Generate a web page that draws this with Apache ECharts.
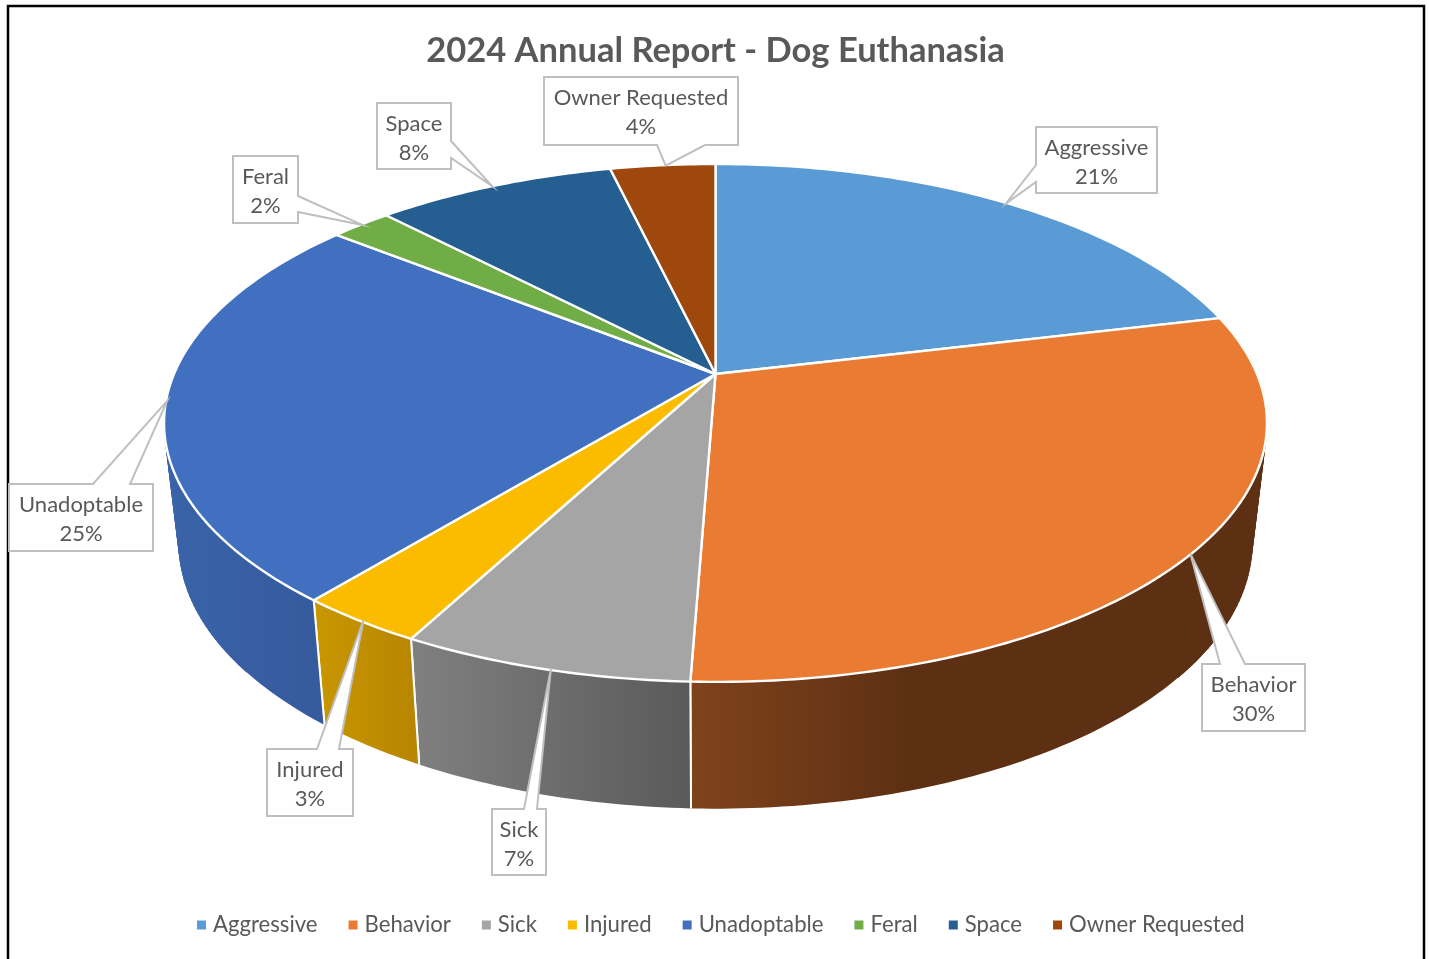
<!DOCTYPE html>
<html><head><meta charset="utf-8">
<script src="https://cdn.jsdelivr.net/npm/echarts@6/dist/echarts.min.js"></script>
<style>html,body{margin:0;padding:0;background:#fff}#c{width:1429px;height:959px}</style>
</head><body><div id="c"></div>
<script>
const categories = ['Aggressive','Behavior','Sick','Injured','Unadoptable','Feral','Space','Owner Requested'];
const values = [21.25,29.35,7.16,3.16,24.78,2.15,8.45,3.7];
const percentLabels = ['21%','30%','7%','3%','25%','2%','8%','4%'];
const topColors = ['#5b9bd5','#ea7b32','#a5a5a5','#fbbc00','#4270c0','#70ad47','#255e91','#9e480e'];
const wallLight = ['#4a7eae','#80431c','#808080','#c99700','#3a63a8','#5a8b39','#1e4c75','#7f3a0b'];
const wallDark  = ['#3f6c95','#5e3013','#5a5a5a','#b88600','#355a9c','#4c7630','#1a4164','#6c310a'];
const wallFlatAt = [1,0.37,1,1,1,1,1,1];

// projection of the pie onto the page
const G = {cx:715.5, k:0.189, top:{y:374,A:541.5,B:249.7}, bot:{y:493,A:526.9,B:256}};
const total = values.reduce((a,b)=>a+b,0);
const starts = values.map((_,i)=>values.slice(0,i).reduce((a,b)=>a+b,0));
function rim(p,f,r){
  r = r===undefined?1:r;
  const t = p/total*2*Math.PI, u = r*Math.sin(t), v = -r*Math.cos(t), w = 1-G.k*v;
  return [G.cx+f.A*u/w, f.y+f.B*v/w];
}
function arc(a,b,f){
  const n = Math.max(2,Math.ceil((b-a)/0.25)), out=[];
  for(let i=0;i<=n;i++) out.push(rim(a+(b-a)*i/n,f));
  return out;
}
function topItem(i){
  return function(){
    const s=starts[i], e=s+values[i];
    return {type:'polygon',silent:true,
      shape:{points:[[G.cx,G.top.y]].concat(arc(s,e,G.top))},
      style:{fill:topColors[i],stroke:'#fff',lineWidth:2.4,lineJoin:'round'}};
  };
}
function wallItem(params,api){
  const i=api.value(0), s=starts[i], e=s+values[i];
  const T=arc(s,e,G.top), B=arc(s,e,G.bot);
  const xs=T.map(p=>p[0]);
  const x0=Math.min.apply(null,xs), x1=Math.max.apply(null,xs);
  const flat=wallFlatAt[i];
  const grad=new echarts.graphic.LinearGradient(x0,0,x1,0,
    [{offset:0,color:wallLight[i]},{offset:flat,color:wallDark[i]},{offset:1,color:wallDark[i]}],true);
  const kids=[{type:'polygon',silent:true,shape:{points:T.concat(B.slice().reverse())},style:{fill:grad}}];
  // flanks, where the wall turns away and its outline is the line joining the two rims
  for(let j=0;j<T.length-1;j++){
    const side=Math.abs(T[j][0]-G.cx)>480;
    if(side) kids.push({type:'polygon',silent:true,shape:{points:[T[j],T[j+1],B[j+1],B[j]]},
      style:{fill:grad,stroke:grad,lineWidth:0.6}});
  }
  [[T[0],B[0]],[T[T.length-1],B[B.length-1]]].forEach(function(l){
    if(l[1][1]>l[0][1]+100) kids.push({type:'line',silent:true,
      shape:{x1:l[0][0],y1:l[0][1],x2:l[1][0],y2:l[1][1]},style:{stroke:'#fff',lineWidth:2}});
  });
  return {type:'group',children:kids};
}
// callout layout: box x, y, w, h; side the tail leaves from; tail base; tip nudge
const calloutLayout = [
  {b:[1036,127,121,66],side:'left',base:[165,182],nudge:-1},
  {b:[1202,664,103,67],side:'top',base:[1220,1245],nudge:0},
  {b:[492,809,54,66],side:'top',base:[524,537],nudge:7},
  {b:[267,749,86,67],side:'top',base:[317,339],nudge:3},
  {b:[9,484,144,67],side:'top',base:[93,130],nudge:0},
  {b:[233,156,65,67],side:'right',base:[196,212],nudge:1},
  {b:[377,103,74,66],side:'right',base:[141,158],nudge:-2},
  {b:[544,77,194,68],side:'bottom',base:[705,657],nudge:3}
];
function calloutItem(params,api){
  const i=api.value(0), L=calloutLayout[i], b=L.b;
  const x=b[0],y=b[1],r=x+b[2],d=y+b[3],tb=L.base;
  const t=rim(starts[i]+values[i]/2,G.top,0.998); t[0]+=L.nudge;
  let pts;
  if(L.side==='top') pts=[[x,y],[tb[0],y],t,[tb[1],y],[r,y],[r,d],[x,d]];
  if(L.side==='bottom') pts=[[x,y],[r,y],[r,d],[tb[0],d],t,[tb[1],d],[x,d]];
  if(L.side==='left') pts=[[x,y],[r,y],[r,d],[x,d],[x,tb[1]],t,[x,tb[0]]];
  if(L.side==='right') pts=[[x,y],[r,y],[r,tb[0]],t,[r,tb[1]],[r,d],[x,d]];
  const cx=(x+r)/2, font='22px Lato', col='#595959';
  return {type:'group',children:[
    {type:'polygon',silent:true,shape:{points:pts},style:{fill:'#fff',stroke:'#bfbfbf',lineWidth:2,lineJoin:'miter'}},
    {type:'text',silent:true,style:{text:categories[i],x:cx,y:y+20.5,align:'center',verticalAlign:'middle',font:font,fill:col}},
    {type:'text',silent:true,style:{text:percentLabels[i],x:cx,y:y+49.5,align:'center',verticalAlign:'middle',font:font,fill:col}}
  ]};
}
const idx = categories.map((_,i)=>[i]);
const series = [
  {type:'custom',name:'walls',coordinateSystem:'none',z:1,silent:true,animation:false,data:idx,renderItem:wallItem}
].concat(categories.map(function(c,i){
  return {type:'custom',name:c,coordinateSystem:'none',z:2,silent:true,animation:false,
    itemStyle:{color:topColors[i]},data:[[i]],renderItem:topItem(i)};
})).concat([
  {type:'custom',name:'callouts',coordinateSystem:'none',z:3,silent:true,animation:false,data:idx,renderItem:calloutItem}
]);
const chart = echarts.init(document.getElementById('c'),null,{renderer:'canvas'});
chart.setOption({
  backgroundColor:'#fff',animation:false,
  title:{text:'2024 Annual Report - Dog Euthanasia',left:710.5,textAlign:'center',top:28,
    textStyle:{fontFamily:'Lato',fontWeight:'bold',fontSize:34.5,color:'#595959'}},
  legend:{data:categories,left:197,top:914,padding:0,itemWidth:9,itemHeight:9,itemGap:31,icon:'rect',selectedMode:false,
    textStyle:{fontFamily:'Lato',fontSize:22.15,color:'#595959',padding:[0,0,0,2]}},
  graphic:[{type:'polyline',silent:true,z:0,
    shape:{points:[[8,959],[8,6],[1424,6],[1424,959]]},style:{stroke:'#000',lineWidth:2.5,fill:null}}],
  series:series
});
</script></body></html>
